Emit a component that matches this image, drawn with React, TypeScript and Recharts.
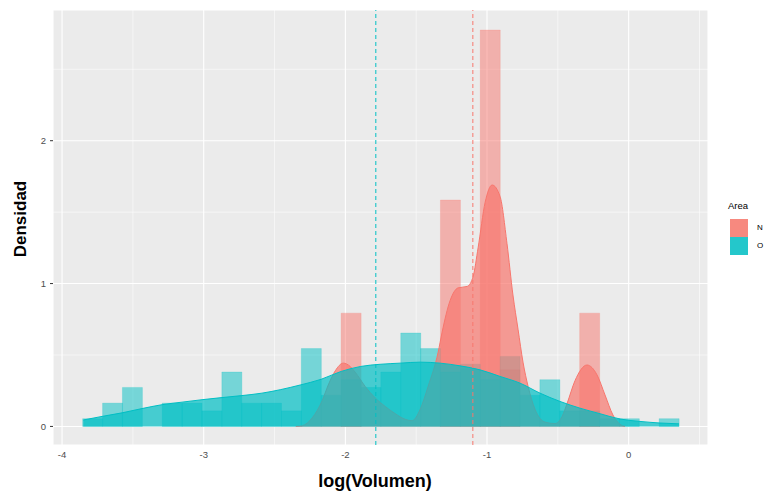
import React from 'react';
import { ComposedChart, Bar, Area, XAxis, YAxis, CartesianGrid, ReferenceLine } from 'recharts';

// bin mids of the histogram (30 bins)
const binMid = [
  -3.785, -3.644, -3.504, -3.364, -3.223, -3.083, -2.943, -2.802, -2.662, -2.522,
  -2.381, -2.241, -2.101, -1.96, -1.82, -1.68, -1.539, -1.399, -1.259, -1.118,
  -0.978, -0.838, -0.697, -0.557, -0.417, -0.276, -0.136, 0.004, 0.145, 0.285,
];
const histN = [
  0, 0, 0, 0, 0, 0, 0, 0, 0, 0,
  0, 0, 0, 0.793, 0, 0, 0, 0, 1.585, 0.396,
  2.775, 0.396, 0, 0, 0, 0.793, 0, 0, 0, 0,
];
const histO = [
  0.054, 0.163, 0.273, 0, 0.163, 0.163, 0.109, 0.381, 0.163, 0.163,
  0.109, 0.545, 0.218, 0.327, 0.273, 0.381, 0.654, 0.545, 0.381, 0.436,
  0.327, 0.49, 0.218, 0.327, 0.109, 0.109, 0.054, 0.054, 0, 0.054,
];

// density curves
const densNx = [
  -2.35, -2.304, -2.234, -2.164, -2.121, -2.071, -2.015, -1.966, -1.931, -1.86,
  -1.79, -1.719, -1.649, -1.578, -1.529, -1.472, -1.416, -1.345, -1.317, -1.261,
  -1.204, -1.14, -1.098, -1.063, -1.013, -0.964, -0.908, -0.859, -0.817, -0.781,
  -0.746, -0.71, -0.661, -0.59, -0.52, -0.47, -0.435, -0.379, -0.294, -0.223,
  -0.167, -0.111, -0.061, -0.026,
];
const densNy = [
  0, 0.005, 0.06, 0.18, 0.29, 0.39, 0.443, 0.42, 0.38, 0.28,
  0.2, 0.14, 0.09, 0.05, 0.04, 0.12, 0.28, 0.52, 0.66, 0.88,
  0.97, 0.98, 1.05, 1.25, 1.57, 1.69, 1.61, 1.28, 0.92, 0.68,
  0.45, 0.28, 0.12, 0.03, 0.02, 0.07, 0.16, 0.32, 0.43, 0.36,
  0.22, 0.08, 0.015, 0,
];
const densOx = [
  -3.85, -3.718, -3.577, -3.436, -3.295, -3.153, -3.012, -2.871, -2.73, -2.589,
  -2.46, -2.319, -2.171, -2.03, -1.891, -1.755, -1.613, -1.472, -1.331, -1.19,
  -1.049, -0.908, -0.767, -0.626, -0.485, -0.344, -0.202, -0.061, 0.08, 0.221, 0.355,
];
const densOy = [
  0.045, 0.07, 0.095, 0.125, 0.152, 0.17, 0.187, 0.202, 0.216, 0.233,
  0.257, 0.29, 0.33, 0.385, 0.42, 0.435, 0.443, 0.45, 0.443, 0.424,
  0.396, 0.35, 0.303, 0.233, 0.175, 0.128, 0.089, 0.052, 0.035, 0.024, 0.018,
];

const meanN = -1.1;
const meanO = -1.785;

const xMajor = [-4, -3, -2, -1, 0];
const xMinor = [-3.5, -2.5, -1.5, -0.5, 0.5];
const yMajor = [0, 1, 2];
const yMinor = [0.5, 1.5, 2.5];

const RED = '#F8766D';
const CYAN = '#00BFC4';
const FONT = '"Liberation Sans", Arial, Helvetica, sans-serif';

const bins = binMid.map((x, i) => ({ x, n: histN[i], o: histO[i] }));
const densN = densNx.map((x, i) => ({ x, y: densNy[i] }));
const densO = densOx.map((x, i) => ({ x, y: densOy[i] }));

const X_DOM: [number, number] = [-4.064, 0.56];
const Y_DOM: [number, number] = [-0.13, 2.915];

// tick text drawn just under the tick mark (panel bottom is at 445)
const XTick = (props: any) => {
  const { x, payload } = props;
  return (
    <text x={x} y={458} textAnchor="middle" fontSize={9.5} fill="#4D4D4D" fontFamily={FONT}>
      {payload.value}
    </text>
  );
};

export default function App() {
  return (
    <div style={{ position: 'absolute', left: 0, top: 0, width: 769, height: 491, background: '#fff', fontFamily: FONT }}>
      <ComposedChart
        width={769}
        height={491}
        data={bins}
        margin={{ top: 10, right: 61, bottom: 0, left: 0 }}
        barCategoryGap={0}
        barGap={0}
      >
        <CartesianGrid xAxisId="main" fill="#EBEBEB" stroke="#FFFFFF" strokeWidth={1.1} zIndex={-100} />
        {xMinor.map((v) => (
          <ReferenceLine key={`mx${v}`} xAxisId="main" x={v} stroke="#FFFFFF" strokeWidth={0.55} zIndex={-90} />
        ))}
        {yMinor.map((v) => (
          <ReferenceLine key={`my${v}`} xAxisId="main" y={v} stroke="#FFFFFF" strokeWidth={0.55} zIndex={-90} />
        ))}
        <XAxis
          xAxisId="main"
          type="number"
          dataKey="x"
          domain={X_DOM}
          ticks={xMajor}
          interval={0}
          allowDataOverflow
          axisLine={false}
          tickLine={{ stroke: '#333333' }}
          tickSize={3}
          tickMargin={2}
          tick={<XTick />}
          height={46}
        />
        <XAxis xAxisId="bn" type="number" dataKey="x" domain={X_DOM} allowDataOverflow hide />
        <XAxis xAxisId="bo" type="number" dataKey="x" domain={X_DOM} allowDataOverflow hide />
        <YAxis
          type="number"
          domain={Y_DOM}
          ticks={yMajor}
          interval={0}
          allowDataOverflow
          axisLine={false}
          tickLine={{ stroke: '#333333' }}
          tickSize={3}
          tickMargin={4}
          tick={{ fontSize: 9.5, fill: '#4D4D4D', fontFamily: FONT }}
          width={53}
        />
        <Bar xAxisId="bn" dataKey="n" fill={RED} fillOpacity={0.5} stroke={RED} strokeOpacity={0.35} strokeWidth={0.6} isAnimationActive={false} zIndex={110} />
        <Bar xAxisId="bo" dataKey="o" fill={CYAN} fillOpacity={0.5} stroke={CYAN} strokeOpacity={0.35} strokeWidth={0.6} isAnimationActive={false} zIndex={120} />
        <Area xAxisId="main" data={densN} dataKey="y" type="monotone" baseValue={0} fill={RED} fillOpacity={0.7} stroke={RED} strokeWidth={1} dot={false} activeDot={false} isAnimationActive={false} zIndex={130} />
        <Area xAxisId="main" data={densO} dataKey="y" type="monotone" baseValue={0} fill={CYAN} fillOpacity={0.7} stroke={CYAN} strokeWidth={1} dot={false} activeDot={false} isAnimationActive={false} zIndex={140} />
        <ReferenceLine xAxisId="main" x={meanO} stroke={CYAN} strokeWidth={1} strokeDasharray="4 3" zIndex={150} />
        <ReferenceLine xAxisId="main" x={meanN} stroke={RED} strokeWidth={1} strokeDasharray="4 3" zIndex={150} />
      </ComposedChart>

      <div style={{ position: 'absolute', left: 21, top: 219, transform: 'translate(-50%, -50%) rotate(-90deg)', fontSize: 17, fontWeight: 'bold', whiteSpace: 'nowrap', color: '#000' }}>
        Densidad
      </div>
      <div style={{ position: 'absolute', left: 375, top: 481, transform: 'translate(-50%, -50%)', fontSize: 18, fontWeight: 'bold', whiteSpace: 'nowrap', color: '#000' }}>
        log(Volumen)
      </div>

      <div style={{ position: 'absolute', left: 728, top: 200, fontSize: 9.5, color: '#000', lineHeight: '12px' }}>Area</div>
      <div style={{ position: 'absolute', left: 730, top: 219, width: 18, height: 18, background: '#F7897F' }} />
      <div style={{ position: 'absolute', left: 730, top: 237, width: 18, height: 18, background: '#24C7CB' }} />
      <div style={{ position: 'absolute', left: 757, top: 222, fontSize: 8, color: '#000', lineHeight: '12px' }}>N</div>
      <div style={{ position: 'absolute', left: 757, top: 240, fontSize: 8, color: '#000', lineHeight: '12px' }}>O</div>
    </div>
  );
}
